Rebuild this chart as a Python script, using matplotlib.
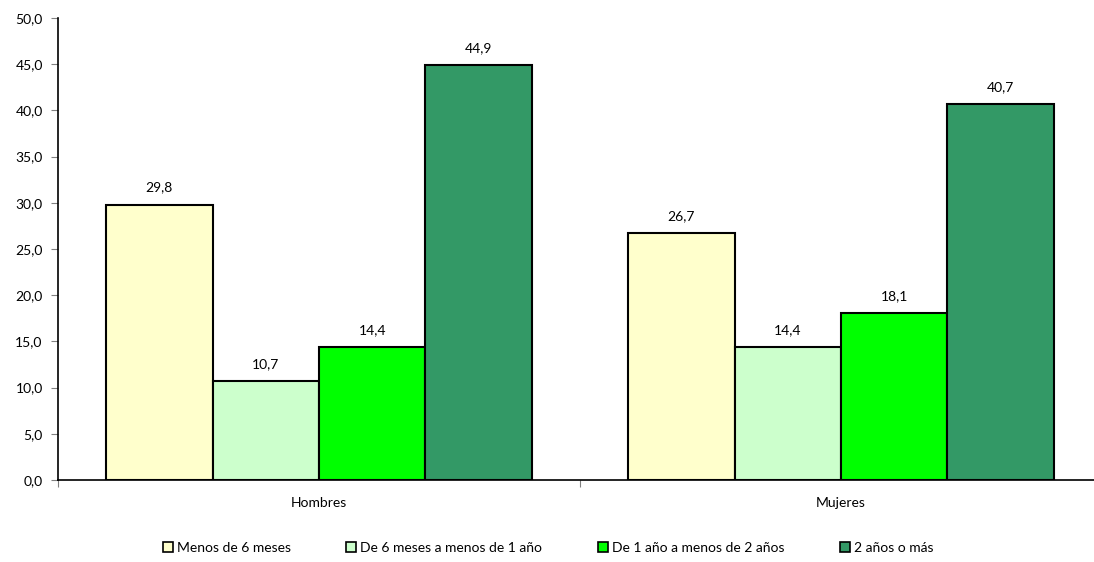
import numpy as np
import matplotlib.pyplot as plt
from matplotlib.patches import Patch

plt.rcParams['font.family'] = ['Lato', 'DejaVu Sans']
fontsize = 10

grupos = ['Hombres', 'Mujeres']
series = ['Menos de 6 meses', 'De 6 meses a menos de 1 año',
          'De 1 año a menos de 2 años', '2 años o más']
valores = [
    [29.8, 26.7],
    [10.7, 14.4],
    [14.4, 18.1],
    [44.9, 40.7],
]
colores = ['#FFFFCC', '#CCFFCC', '#00FF00', '#339966']

fig = plt.figure(figsize=(10.94, 5.62), dpi=100)
ax = fig.add_axes([58/1094, 82/562, 1044/1094, 462/562])

x = np.arange(len(grupos))
w = 0.204
for i, (vals, c) in enumerate(zip(valores, colores)):
    pos = x + (i - 1.5) * w
    ax.bar(pos, vals, width=w, color=c, edgecolor='black', linewidth=1.5, zorder=3)
    for p, v in zip(pos, vals):
        ax.text(p, v + 1.2, f'{v:.1f}'.replace('.', ','), ha='center', va='bottom',
                fontsize=fontsize)

ax.set_xlim(-0.5, 1.5)
ax.set_ylim(0, 50)
ax.set_yticks(np.arange(0, 51, 5))
ax.set_yticklabels([f'{t:.1f}'.replace('.', ',') for t in np.arange(0, 51, 5)],
                   fontsize=fontsize)
ax.set_xticks([-0.5, 0.5, 1.5])
ax.set_xticklabels([])
ax.set_xticks(x, minor=True)
ax.set_xticklabels(grupos, minor=True, fontsize=fontsize)
ax.tick_params(axis='x', which='minor', length=0, pad=12)
ax.tick_params(axis='x', which='major', length=5, direction='out', color='#808080')
ax.tick_params(axis='y', length=5, direction='out', color='#808080', pad=6)
for s in ['top', 'right']:
    ax.spines[s].set_visible(False)
ax.spines['left'].set_linewidth(1.2)
ax.spines['bottom'].set_linewidth(1.2)

handles = [Patch(facecolor=c, edgecolor='black', linewidth=1.2) for c in colores]
fig.legend(handles, series, loc='center', bbox_to_anchor=(0.501, 0.025), ncol=4,
           frameon=False, fontsize=10, handlelength=0.7, handleheight=0.7,
           handletextpad=0.3, columnspacing=4.0)

fig.savefig('out.png', dpi=100)
